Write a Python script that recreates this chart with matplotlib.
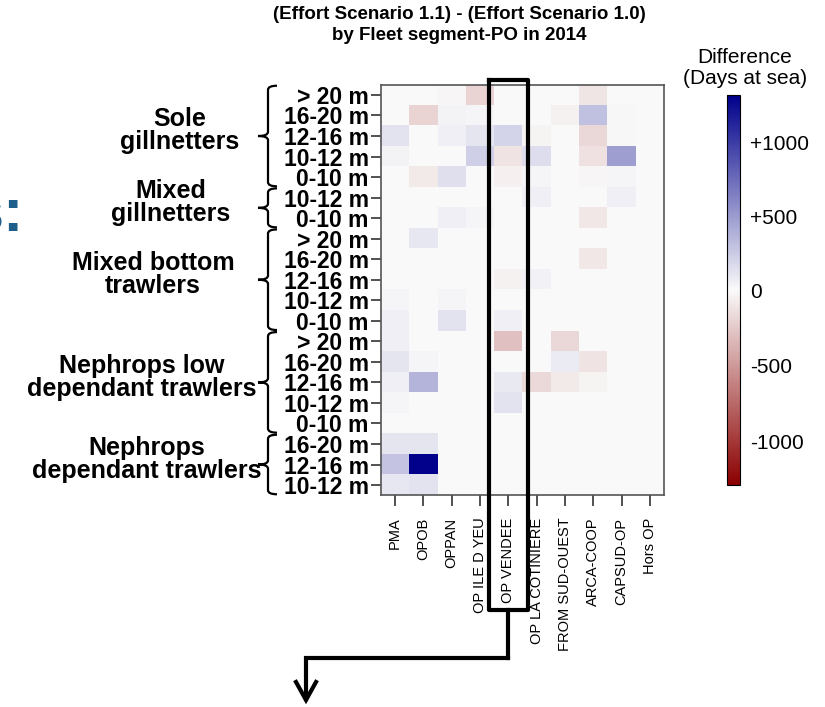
import numpy as np
import matplotlib
matplotlib.use('Agg')
import matplotlib.pyplot as plt
from matplotlib.colors import LinearSegmentedColormap
from matplotlib.path import Path
from matplotlib.patches import PathPatch
from matplotlib.lines import Line2D
import matplotlib.transforms as mtransforms

plt.rcParams['font.family'] = ['Liberation Sans', 'DejaVu Sans']

W, H = 825, 707

pos = ['PMA', 'OPOB', 'OPPAN', 'OP ILE D YEU', 'OP VENDEE', 'OP LA COTINIERE',
       'FROM SUD-OUEST', 'ARCA-COOP', 'CAPSUD-OP', 'Hors OP']
segments = ['> 20 m', '16-20 m', '12-16 m', '10-12 m', '0-10 m',
            '10-12 m', '0-10 m',
            '> 20 m', '16-20 m', '12-16 m', '10-12 m', '0-10 m',
            '> 20 m', '16-20 m', '12-16 m', '10-12 m', '0-10 m',
            '16-20 m', '12-16 m', '10-12 m']
groups = ['Sole\ngillnetters', 'Mixed\ngillnetters', 'Mixed bottom\ntrawlers',
          'Nephrops low\ndependant trawlers', 'Nephrops\ndependant trawlers']
group_rows = [(0, 4), (5, 6), (7, 11), (12, 16), (17, 19)]

# difference in days at sea, rows = segments (top to bottom), cols = POs
diff = np.array([
    [0, 0, -30, -200, 0, 0, 0, -110, 0, 0],
    [0, -200, 40, 30, 0, 0, -50, 300, -20, 0],
    [120, 0, 60, 110, 200, -40, 0, -180, -20, 0],
    [40, 0, 0, 220, -120, 150, 0, -130, 480, 0],
    [0, -90, 140, 0, -60, 30, 0, -30, 30, 0],
    [0, 0, 0, 0, 0, 60, 0, 0, 60, 0],
    [0, 0, 60, 30, 0, 0, 0, -100, 0, 0],
    [0, 100, 0, 0, 0, 0, 0, 0, 0, 0],
    [0, 0, 0, 0, 0, 0, 0, -100, 0, 0],
    [0, 0, 0, 0, -50, 50, 0, 0, 0, 0],
    [30, 0, 30, 0, 0, 0, 0, 0, 0, 0],
    [60, 0, 120, 0, 60, 0, 0, 0, 0, 0],
    [60, 0, 0, 0, -300, 0, -180, 0, 0, 0],
    [110, 30, 0, 0, 0, 0, 80, -120, 0, 0],
    [60, 370, 0, 0, 90, -170, -90, -40, 0, 0],
    [30, 0, 0, 0, 120, 0, 0, 0, 0, 0],
    [0, 0, 0, 0, 0, 0, 0, 0, 0, 0],
    [110, 110, 0, 0, 0, 0, 0, 0, 0, 0],
    [280, 1300, 0, 0, 0, 0, 0, 0, 0, 0],
    [100, 120, 0, 0, 0, 0, 0, 0, 0, 0],
])
cbar_ticks = [-1000, -500, 0, 500, 1000]
cbar_labels = ['-1000', '-500', '0', '+500', '+1000']
vmin, vmax = -1290, 1320


def fx(px):
    return px / W


def fy(py):
    return 1 - py / H


cmap = LinearSegmentedColormap.from_list('rwb', ['#8b0000', '#fafafa', '#00008b'])
norm = matplotlib.colors.TwoSlopeNorm(vcenter=0, vmin=vmin, vmax=vmax)

fig = plt.figure(figsize=(W / 100, H / 100), dpi=100)
ax = fig.add_axes([fx(381), fy(495.3), fx(664) - fx(381), fy(84.7) - fy(495.3)])
im = ax.imshow(diff, cmap=cmap, norm=norm, aspect='auto', interpolation='nearest',
               extent=(-0.5, len(pos) - 0.5, len(segments) - 0.5, -0.5))
ax.set_xlim(-0.5, len(pos) - 0.5)
ax.set_ylim(len(segments) - 0.5, -0.5)
ax.set_xticks(range(len(pos)))
ax.set_xticklabels(pos, rotation=90, fontsize=10.5)
ax.set_yticks(range(len(segments)))
ax.set_yticklabels(segments, fontsize=16.5, fontweight='bold')
ax.tick_params(axis='y', length=7, width=1.2, pad=2, color='#333333')
ax.tick_params(axis='x', length=8, width=1.2, pad=8, color='#333333')
for s in ax.spines.values():
    s.set_color('#555555')
    s.set_linewidth(1.2)

fig.text(fx(459), fy(6), '(Effort Scenario 1.1) - (Effort Scenario 1.0)\nby Fleet segment-PO in 2014',
         ha='center', va='top', fontsize=13.5, fontweight='bold', linespacing=1.3)

# colour bar
cax = fig.add_axes([fx(727), fy(485), fx(740) - fx(727), fy(95) - fy(485)])
cb = fig.colorbar(im, cax=cax)
cb.set_ticks(cbar_ticks)
cb.set_ticklabels(cbar_labels)
cax.tick_params(length=0, labelsize=15, pad=7)
cb.outline.set_linewidth(0.8)
fig.text(fx(745), fy(68), 'Difference\n(Days at sea)', ha='center', va='center',
         fontsize=15, linespacing=1.15)

# group braces and labels
bt = mtransforms.blended_transform_factory(fig.transFigure, ax.transData)
xv, xe, xt = fx(268), fx(277), fx(258)
label_x = [180, 171, 153, 142, 147]
for (a, b), name, lx in zip(group_rows, groups, label_x):
    y0, y1 = a - 0.45, b + 0.45
    ym = (a + b) / 2
    c = 0.2
    verts = [(xe, y0), (xv, y0), (xv, y0 + c), (xv, ym - c), (xv, ym), (xt, ym),
             (xv, ym), (xv, ym + c), (xv, y1 - c), (xv, y1), (xe, y1)]
    codes = [Path.MOVETO, Path.CURVE3, Path.CURVE3, Path.LINETO, Path.CURVE3, Path.CURVE3,
             Path.CURVE3, Path.CURVE3, Path.LINETO, Path.CURVE3, Path.CURVE3]
    fig.add_artist(PathPatch(Path(verts, codes), transform=bt, fill=False,
                             lw=1.6, color='black', clip_on=False))
    fig.text(fx(lx), ym - 0.25, name, transform=bt, ha='center', va='center',
             fontsize=18, fontweight='bold', linespacing=0.95)

# highlight box around OP VENDEE and arrow
col = pos.index('OP VENDEE')
bx = mtransforms.blended_transform_factory(ax.transData, fig.transFigure)
box_x = [col - 0.68, col + 0.68, col + 0.68, col - 0.68, col - 0.68]
box_y = [fy(80), fy(80), fy(610), fy(610), fy(80)]
fig.add_artist(Line2D(box_x, box_y, transform=bx, color='black', lw=3,
                      solid_joinstyle='round', clip_on=False))
fig.add_artist(Line2D([col, col], [fy(610), fy(658)], transform=bx, color='black', lw=3,
                      clip_on=False))
fig.add_artist(Line2D([ax.transData.transform((col, 0))[0] / W, fx(306), fx(306)],
                      [fy(658), fy(658), fy(699)], transform=fig.transFigure,
                      color='black', lw=3, solid_joinstyle='miter', clip_on=False))
fig.add_artist(Line2D([fx(296), fx(306), fx(316)], [fy(682), fy(700), fy(682)],
                      transform=fig.transFigure, color='black', lw=3,
                      solid_joinstyle='miter', clip_on=False))

# cropped heading from the slide
fig.text(fx(24), fy(231), 's:', ha='right', va='baseline', fontsize=44,
         fontweight='bold', color='#1d5f8a')

fig.savefig('out.png', dpi=100)
